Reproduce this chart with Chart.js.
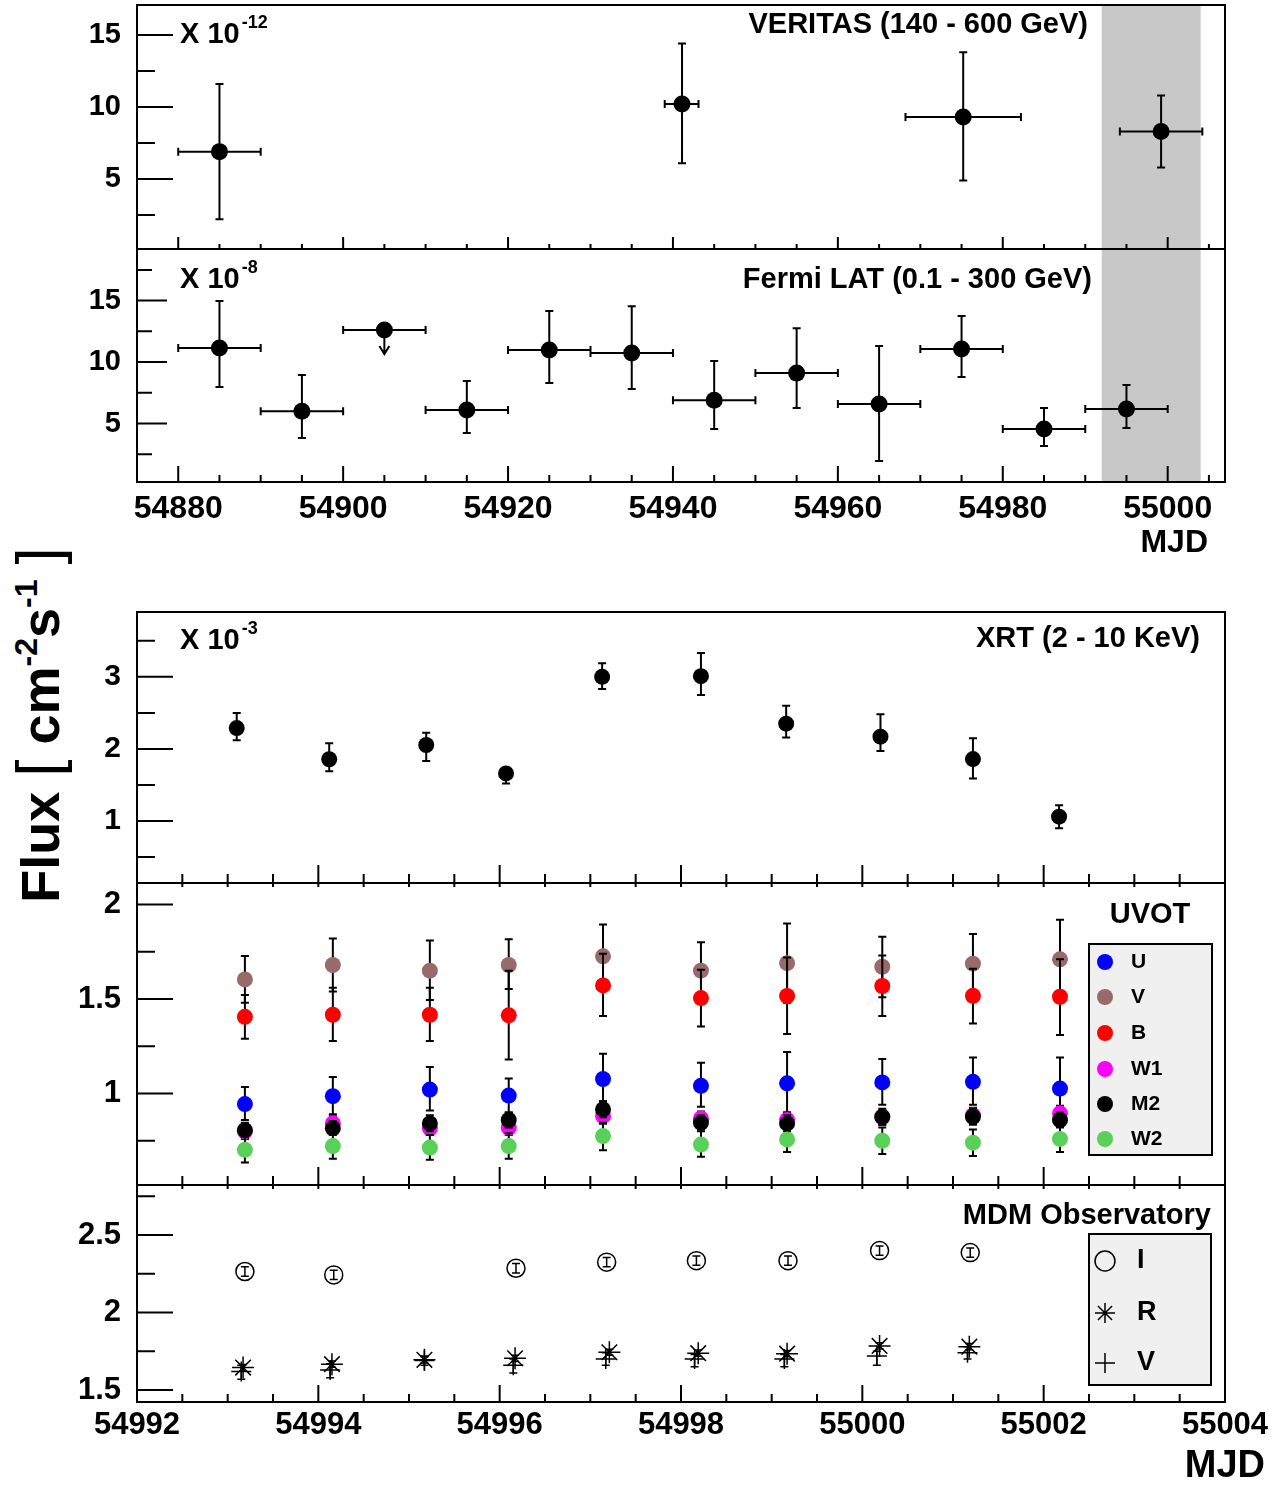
<!DOCTYPE html>
<html>
<head>
<meta charset="utf-8">
<script src="https://cdn.jsdelivr.net/npm/chart.js@4.4.0/dist/chart.umd.min.js"></script>
<style>
  body { margin: 0; background: #fff; width: 1288px; height: 1487px; position: relative; overflow: hidden; font-family: "Liberation Sans", Arial, sans-serif; }
  canvas { position: absolute; left: 0; }
  #ytitle { position: absolute; left: 38px; top: 725px; transform: translate(-50%, -50%) rotate(-90deg); white-space: nowrap; font-size: 54px; font-weight: bold; line-height: 1; }
  #ytitle .br { font-weight: normal; font-size: 62px; }
  #ytitle sup { font-size: 32px; vertical-align: 22px; }
</style>
</head>
<body>
<div id="ytitle">Flux <span class="br">[</span> cm<sup>-2</sup>s<sup>-1</sup> <span class="br">]</span></div>
<canvas id="cVer" width="1288" height="252" style="top:0px"></canvas>
<canvas id="cLat" width="1288" height="330" style="top:240px"></canvas>
<canvas id="cXrt" width="1288" height="286" style="top:600px"></canvas>
<canvas id="cUvot" width="1288" height="315" style="top:873px"></canvas>
<canvas id="cMdm" width="1288" height="312" style="top:1175px"></canvas>
<script>
// ---- data ----
const topMjdTicks = [54880, 54900, 54920, 54940, 54960, 54980, 55000];
const botMjdTicks = [54992, 54994, 54996, 54998, 55000, 55002, 55004];
const vhsBand = [54992, 55004];

// VERITAS (140 - 600 GeV), x 10^-12
const verMjd = [54885, 54941.1, 54975.2, 54999.2];
const verMjdLo = [54880, 54939, 54968.2, 54994.2];
const verMjdHi = [54890, 54943.1, 54982.2, 55004.2];
const verFlux = [6.9, 10.2, 9.3, 8.3];
const verFluxLo = [2.2, 6.1, 4.9, 5.8];
const verFluxHi = [11.6, 14.4, 13.8, 10.8];
const verYTicks = [5, 10, 15];

// Fermi LAT (0.1 - 300 GeV), x 10^-8
const latMjd = [54885, 54895, 54905, 54915, 54925, 54935, 54945, 54955, 54965, 54975, 54985, 54995];
const latMjdLo = [54880, 54890, 54900, 54910, 54920, 54930, 54940, 54950, 54960, 54970, 54980, 54990];
const latMjdHi = [54890, 54900, 54910, 54920, 54930, 54940, 54950, 54960, 54970, 54980, 54990, 55000];
const latFlux = [11.14, 6.0, 12.6, 6.1, 10.98, 10.73, 6.9, 9.1, 6.59, 11.06, 4.55, 6.18];
const latFluxLo = [7.97, 3.82, null, 4.23, 8.29, 7.8, 4.55, 6.26, 1.95, 8.78, 3.17, 4.63];
const latFluxHi = [14.96, 8.94, null, 8.46, 14.15, 14.55, 10.08, 12.76, 11.3, 13.74, 6.26, 8.13];
const latUpperTip = [null, null, 10.65, null, null, null, null, null, null, null, null, null];
const latYTicks = [5, 10, 15];

// XRT (2 - 10 keV), x 10^-3
const xrtMjd = [54993.10, 54994.12, 54995.19, 54996.07, 54997.13, 54998.22, 54999.16, 55000.20, 55001.22, 55002.17];
const xrtFlux = [2.29, 1.857, 2.055, 1.66, 3.0, 3.01, 2.35, 2.17, 1.86, 1.06];
const xrtFluxLo = [2.12, 1.69, 1.833, 1.52, 2.83, 2.75, 2.16, 1.97, 1.59, 0.9];
const xrtFluxHi = [2.5, 2.08, 2.226, 1.72, 3.19, 3.33, 2.6, 2.48, 2.15, 1.22];
const xrtYTicks = [1, 2, 3];

// UVOT
const uvotMjd = [54993.19, 54994.16, 54995.23, 54996.10, 54997.14, 54998.22, 54999.17, 55000.22, 55001.22, 55002.18];
const uvotU = [0.944, 0.986, 1.021, 0.989, 1.077, 1.041, 1.054, 1.059, 1.062, 1.026];
const uvotULo = [0.86, 0.89, 0.91, 0.9, 0.95, 0.93, 0.9, 0.94, 0.94, 0.87];
const uvotUHi = [1.034, 1.087, 1.14, 1.08, 1.21, 1.163, 1.22, 1.183, 1.19, 1.19];
const uvotV = [1.604, 1.68, 1.65, 1.68, 1.726, 1.65, 1.69, 1.671, 1.687, 1.71];
const uvotVLo = [1.48, 1.54, 1.495, 1.553, 1.56, 1.5, 1.48, 1.51, 1.53, 1.5];
const uvotVHi = [1.728, 1.82, 1.81, 1.816, 1.895, 1.8, 1.9, 1.83, 1.844, 1.92];
const uvotB = [1.406, 1.417, 1.417, 1.414, 1.572, 1.505, 1.516, 1.569, 1.517, 1.512];
const uvotBLo = [1.29, 1.278, 1.278, 1.18, 1.41, 1.355, 1.315, 1.41, 1.37, 1.31];
const uvotBHi = [1.521, 1.56, 1.56, 1.65, 1.74, 1.655, 1.72, 1.73, 1.66, 1.71];
const uvotW1 = [0.8, 0.842, 0.816, 0.82, 0.88, 0.868, 0.86, 0.874, 0.885, 0.895];
const uvotW1Lo = [0.76, 0.805, 0.78, 0.78, 0.84, 0.83, 0.82, 0.835, 0.845, 0.855];
const uvotW1Hi = [0.84, 0.88, 0.855, 0.86, 0.92, 0.905, 0.9, 0.91, 0.925, 0.935];
const uvotM2 = [0.806, 0.816, 0.842, 0.86, 0.916, 0.846, 0.842, 0.877, 0.877, 0.86];
const uvotM2Lo = [0.77, 0.78, 0.8, 0.82, 0.875, 0.81, 0.8, 0.835, 0.835, 0.82];
const uvotM2Hi = [0.845, 0.855, 0.885, 0.9, 0.96, 0.885, 0.885, 0.92, 0.92, 0.9];
const uvotW2 = [0.702, 0.722, 0.714, 0.722, 0.775, 0.73, 0.757, 0.75, 0.74, 0.76];
const uvotW2Lo = [0.635, 0.655, 0.65, 0.655, 0.7, 0.665, 0.69, 0.68, 0.67, 0.69];
const uvotW2Hi = [0.77, 0.79, 0.78, 0.79, 0.845, 0.8, 0.825, 0.82, 0.81, 0.83];
const uvotYTicks = [1, 1.5, 2];

// MDM Observatory
const mdmIMjd = [54993.19, 54994.17, 54996.18, 54997.18, 54998.17, 54999.18, 55000.19, 55001.19];
const mdmI = [2.265, 2.243, 2.286, 2.325, 2.335, 2.335, 2.4, 2.387];
const mdmILo = [2.235, 2.213, 2.256, 2.295, 2.305, 2.305, 2.37, 2.357];
const mdmIHi = [2.295, 2.273, 2.316, 2.355, 2.365, 2.365, 2.43, 2.417];
const mdmRMjd = [54993.17, 54994.15, 54995.17, 54996.17, 54997.21, 54998.19, 54999.17, 55000.19, 55001.18];
const mdmR = [1.645, 1.667, 1.695, 1.705, 1.744, 1.738, 1.735, 1.785, 1.78];
const mdmRLo = [1.625, 1.647, 1.675, 1.685, 1.724, 1.718, 1.715, 1.765, 1.76];
const mdmRHi = [1.665, 1.687, 1.715, 1.725, 1.764, 1.758, 1.755, 1.805, 1.8];
const mdmVMjd = [54993.15, 54994.13, 54995.17, 54996.15, 54997.17, 54998.15, 54999.14, 55000.16, 55001.16];
const mdmV = [1.62, 1.63, 1.69, 1.66, 1.7, 1.7, 1.7, 1.72, 1.74];
const mdmVLo = [1.57, 1.58, 1.66, 1.61, 1.66, 1.65, 1.65, 1.66, 1.7];
const mdmVHi = [1.66, 1.67, 1.72, 1.7, 1.74, 1.73, 1.73, 1.75, 1.78];
const mdmYTicks = [1.5, 2, 2.5];

// ---- drawing helpers ----
Chart.defaults.font.family = '"Liberation Sans", Arial, sans-serif';
Chart.defaults.font.weight = 'bold';
Chart.defaults.color = '#000';

function pts(xs, ys) {
  return xs.map((x, i) => ({ x: x, y: ys[i] }));
}

function marker(ctx, style, x, y, r, fill, stroke, lw) {
  ctx.save();
  ctx.lineWidth = lw;
  ctx.strokeStyle = stroke;
  ctx.fillStyle = fill;
  ctx.beginPath();
  if (style === 'circle') {
    ctx.arc(x, y, r, 0, Math.PI * 2);
    if (fill) ctx.fill();
    if (lw) ctx.stroke();
  } else {
    const angles = style === 'star' ? [0, 45, 90, 135] : [0, 90];
    angles.forEach(a => {
      const dx = Math.cos(a * Math.PI / 180) * r, dy = Math.sin(a * Math.PI / 180) * r;
      ctx.moveTo(x - dx, y - dy);
      ctx.lineTo(x + dx, y + dy);
    });
    ctx.stroke();
  }
  ctx.restore();
}

function drawErrors(chart, ds) {
  const { ctx } = chart;
  const { x, y } = chart.scales;
  const e = ds.err;
  const c = e.cap;
  ctx.save();
  ctx.strokeStyle = '#000';
  ctx.lineWidth = e.width;
  ctx.beginPath();
  ds.data.forEach((p, i) => {
    const px = x.getPixelForValue(p.x), py = y.getPixelForValue(p.y);
    if (e.yLo && e.yLo[i] != null) {
      const lo = y.getPixelForValue(e.yLo[i]), hi = y.getPixelForValue(e.yHi[i]);
      ctx.moveTo(px, lo); ctx.lineTo(px, hi);
      ctx.moveTo(px - c, lo); ctx.lineTo(px + c, lo);
      ctx.moveTo(px - c, hi); ctx.lineTo(px + c, hi);
    }
    if (e.xLo) {
      const lo = x.getPixelForValue(e.xLo[i]), hi = x.getPixelForValue(e.xHi[i]);
      ctx.moveTo(lo, py); ctx.lineTo(hi, py);
      ctx.moveTo(lo, py - c); ctx.lineTo(lo, py + c);
      ctx.moveTo(hi, py - c); ctx.lineTo(hi, py + c);
    }
    if (e.ul && e.ul[i] != null) {
      const tip = y.getPixelForValue(e.ul[i]);
      ctx.moveTo(px, py); ctx.lineTo(px, tip);
      ctx.moveTo(px - 5, tip - 8); ctx.lineTo(px, tip); ctx.lineTo(px + 5, tip - 8);
    }
  });
  ctx.stroke();
  ctx.restore();
}

function eachTick(scale, t, fn) {
  const n0 = Math.ceil(scale.min / t.minor - 1e-6), n1 = Math.floor(scale.max / t.minor + 1e-6);
  for (let n = n0; n <= n1; n++) {
    const v = n * t.minor;
    const r = v / t.major;
    fn(v, Math.abs(r - Math.round(r)) < 1e-6 ? t.majLen : t.minLen);
  }
}

// ROOT-like frame, inner ticks, labels and legend boxes
const rootPlugin = {
  id: 'root',
  beforeDatasetsDraw(chart, args, o) {
    if (!o.band) return;
    const { ctx, chartArea: a } = chart;
    const x = chart.scales.x;
    const x0 = x.getPixelForValue(o.band[0]), x1 = x.getPixelForValue(o.band[1]);
    ctx.save();
    ctx.fillStyle = '#c8c8c8';
    ctx.fillRect(x0, a.top + 1, x1 - x0, a.bottom - a.top - 2);
    ctx.restore();
  },
  beforeDatasetDraw(chart, args) {
    const ds = chart.data.datasets[args.index];
    if (ds.err) drawErrors(chart, ds);
  },
  afterDraw(chart, args, o) {
    const { ctx, chartArea: a } = chart;
    const { x, y } = chart.scales;
    ctx.save();
    ctx.strokeStyle = '#000';
    ctx.lineWidth = 2;
    ctx.strokeRect(a.left, a.top, a.right - a.left, a.bottom - a.top);
    ctx.beginPath();
    eachTick(y, o.yTicks, (v, len) => {
      const p = y.getPixelForValue(v);
      ctx.moveTo(a.left, p); ctx.lineTo(a.left + len, p);
    });
    eachTick(x, o.xTicks, (v, len) => {
      const p = x.getPixelForValue(v);
      ctx.moveTo(p, a.bottom); ctx.lineTo(p, a.bottom - len);
      if (o.xTicks.topLen) { ctx.moveTo(p, a.top); ctx.lineTo(p, a.top + o.xTicks.topLen); }
    });
    ctx.stroke();

    if (o.legend) {
      const L = o.legend;
      ctx.fillStyle = '#f0f0f0';
      ctx.fillRect(a.left + L.box[0], a.top + L.box[1], L.box[2] - L.box[0], L.box[3] - L.box[1]);
      ctx.strokeRect(a.left + L.box[0], a.top + L.box[1], L.box[2] - L.box[0], L.box[3] - L.box[1]);
      chart.data.datasets.forEach((ds, i) => {
        const ly = a.top + L.rows[i];
        const filled = ds.pointBackgroundColor !== 'rgba(0,0,0,0)';
        marker(ctx, ds.pointStyle, a.left + L.markerX, ly, L.r, filled ? ds.pointBackgroundColor : null, '#000', filled ? 0 : 1.5);
        ctx.fillStyle = '#000';
        ctx.font = 'bold ' + L.size + 'px "Liberation Sans", Arial, sans-serif';
        ctx.textAlign = 'left';
        ctx.textBaseline = 'middle';
        ctx.fillText(ds.label, a.left + L.textX, ly);
      });
    }

    (o.texts || []).forEach(t => {
      ctx.fillStyle = '#000';
      ctx.font = 'bold ' + t.size + 'px "Liberation Sans", Arial, sans-serif';
      ctx.textAlign = t.align;
      ctx.textBaseline = 'middle';
      const tx = a.left + t.x, ty = a.top + t.y;
      ctx.fillText(t.text, tx, ty);
      if (t.sup) {
        const w = ctx.measureText(t.text).width;
        ctx.font = 'bold ' + t.supSize + 'px "Liberation Sans", Arial, sans-serif';
        ctx.textAlign = 'left';
        ctx.fillText(t.sup, tx + w + 2, ty - 12);
      }
    });
    ctx.restore();
  }
};

function panel(id, o) {
  return new Chart(document.getElementById(id), {
    type: 'scatter',
    data: { datasets: o.datasets },
    plugins: [rootPlugin],
    options: {
      responsive: false,
      animation: false,
      events: [],
      layout: { autoPadding: false, padding: { left: 0, right: 63, top: o.padTop, bottom: o.padBottom } },
      plugins: { legend: { display: false }, tooltip: { enabled: false }, root: o.root },
      scales: {
        x: {
          type: 'linear',
          min: o.xMin,
          max: o.xMax,
          display: o.xLabels != null,
          afterBuildTicks: s => { s.ticks = (o.xLabels || []).map(v => ({ value: v })); },
          afterFit: s => { s.height = o.xAxisHeight || 0; s.paddingLeft = 0; s.paddingRight = 0; },
          ticks: { autoSkip: false, maxRotation: 0, padding: o.xPad || 5, font: { size: o.xFont || 31 }, callback: v => String(v) },
          grid: { display: false, drawTicks: false },
          border: { display: false }
        },
        y: {
          type: 'linear',
          min: o.yMin,
          max: o.yMax,
          afterBuildTicks: s => { s.ticks = o.yLabels.map(v => ({ value: v })); },
          afterFit: s => { s.width = 137; s.paddingTop = 0; s.paddingBottom = 0; },
          ticks: { autoSkip: false, padding: 16, font: { size: o.yFont }, callback: v => String(v) },
          grid: { display: false, drawTicks: false },
          border: { display: false }
        }
      }
    }
  });
}

function blackSeries(label, xs, ys, err, r) {
  return {
    label: label, data: pts(xs, ys), err: err,
    pointStyle: 'circle', pointRadius: r, pointBackgroundColor: '#000', pointBorderWidth: 0
  };
}

function colorSeries(label, color, ys, lo, hi, order) {
  return {
    label: label, data: pts(uvotMjd, ys), order: order,
    err: { yLo: lo, yHi: hi, cap: 4, width: 2 },
    pointStyle: 'circle', pointRadius: 8, pointBackgroundColor: color, pointBorderWidth: 0
  };
}

function mdmSeries(label, style, xs, ys, lo, hi, r, order) {
  return {
    label: label, data: pts(xs, ys), order: order,
    err: { yLo: lo, yHi: hi, cap: 4, width: 1.5 },
    pointStyle: style, pointRadius: r, pointBackgroundColor: 'rgba(0,0,0,0)',
    pointBorderColor: '#000', pointBorderWidth: 1.5
  };
}

// ---- panels ----
panel('cVer', {
  padTop: 5, padBottom: 3,
  xMin: 54875, xMax: 55006.95, yMin: 0.14, yMax: 17.08,
  yLabels: verYTicks, yFont: 29,
  datasets: [blackSeries('VERITAS', verMjd, verFlux,
    { xLo: verMjdLo, xHi: verMjdHi, yLo: verFluxLo, yHi: verFluxHi, cap: 4, width: 2 }, 8.5)],
  root: {
    band: vhsBand,
    yTicks: { major: 5, minor: 2.5, majLen: 36, minLen: 18 },
    xTicks: { major: 20, minor: 5, majLen: 12, minLen: 5 },
    texts: [
      { text: 'X 10', x: 43, y: 30, size: 29, align: 'left', sup: '-12', supSize: 18 },
      { text: 'VERITAS (140 - 600 GeV)', x: 951, y: 20, size: 29, align: 'right' }
    ]
  }
});

panel('cLat', {
  padTop: 9, padBottom: 0, xAxisHeight: 88, xPad: 8, xFont: 32,
  xMin: 54875, xMax: 55006.95, yMin: 0.24, yMax: 19.2,
  xLabels: topMjdTicks, yLabels: latYTicks, yFont: 29,
  datasets: [blackSeries('Fermi LAT', latMjd, latFlux,
    { xLo: latMjdLo, xHi: latMjdHi, yLo: latFluxLo, yHi: latFluxHi, ul: latUpperTip, cap: 4, width: 2 }, 8.5)],
  root: {
    band: vhsBand,
    yTicks: { major: 5, minor: 2.5, majLen: 30, minLen: 15 },
    xTicks: { major: 20, minor: 5, majLen: 16, minLen: 7 },
    texts: [
      { text: 'X 10', x: 43, y: 31, size: 29, align: 'left', sup: '-8', supSize: 18 },
      { text: 'Fermi LAT (0.1 - 300 GeV)', x: 955, y: 31, size: 29, align: 'right' },
      { text: 'MJD', x: 1071, y: 294, size: 32, align: 'right' }
    ]
  }
});

panel('cXrt', {
  padTop: 12, padBottom: 3,
  xMin: 54992, xMax: 55004, yMin: 0.14, yMax: 3.9,
  yLabels: xrtYTicks, yFont: 30,
  datasets: [blackSeries('XRT', xrtMjd, xrtFlux, { yLo: xrtFluxLo, yHi: xrtFluxHi, cap: 4, width: 2 }, 8)],
  root: {
    yTicks: { major: 1, minor: 0.5, majLen: 36, minLen: 18 },
    xTicks: { major: 2, minor: 0.5, majLen: 18, minLen: 9 },
    texts: [
      { text: 'X 10', x: 43, y: 29, size: 29, align: 'left', sup: '-3', supSize: 18 },
      { text: 'XRT (2 - 10 KeV)', x: 1063, y: 27, size: 29, align: 'right' }
    ]
  }
});

panel('cUvot', {
  padTop: 10, padBottom: 3,
  xMin: 54992, xMax: 55004, yMin: 0.516, yMax: 2.114,
  yLabels: uvotYTicks, yFont: 31,
  datasets: [
    colorSeries('U', '#0000ff', uvotU, uvotULo, uvotUHi, 0),
    colorSeries('V', '#996a6a', uvotV, uvotVLo, uvotVHi, -1),
    colorSeries('B', '#ff0000', uvotB, uvotBLo, uvotBHi, -2),
    colorSeries('W1', '#ff00ff', uvotW1, uvotW1Lo, uvotW1Hi, -3),
    colorSeries('M2', '#000000', uvotM2, uvotM2Lo, uvotM2Hi, -4),
    colorSeries('W2', '#59d159', uvotW2, uvotW2Lo, uvotW2Hi, -5)
  ],
  root: {
    yTicks: { major: 0.5, minor: 0.25, majLen: 36, minLen: 18 },
    xTicks: { major: 2, minor: 0.5, majLen: 18, minLen: 9, topLen: 4 },
    legend: { box: [952, 61, 1075, 272], rows: [79, 114, 150, 186, 221, 256], markerX: 968, textX: 994, size: 21, r: 8 },
    texts: [{ text: 'UVOT', x: 1013, y: 32, size: 29, align: 'center' }]
  }
});

panel('cMdm', {
  padTop: 10, padBottom: 0, xAxisHeight: 85, xPad: 5, xFont: 31,
  xMin: 54992, xMax: 55004, yMin: 1.423, yMax: 2.823,
  xLabels: botMjdTicks, yLabels: mdmYTicks, yFont: 31,
  datasets: [
    mdmSeries('I', 'circle', mdmIMjd, mdmI, mdmILo, mdmIHi, 9, 0),
    mdmSeries('R', 'star', mdmRMjd, mdmR, mdmRLo, mdmRHi, 11, -1),
    mdmSeries('V', 'cross', mdmVMjd, mdmV, mdmVLo, mdmVHi, 10, -2)
  ],
  root: {
    yTicks: { major: 0.5, minor: 0.25, majLen: 36, minLen: 18 },
    xTicks: { major: 2, minor: 0.5, majLen: 17, minLen: 8, topLen: 4 },
    legend: { box: [952, 49, 1074, 200], rows: [76, 128, 178], markerX: 968, textX: 1000, size: 27, r: 10 },
    texts: [
      { text: 'MDM Observatory', x: 1074, y: 31, size: 29, align: 'right' },
      { text: 'MJD', x: 1128, y: 282, size: 38, align: 'right' }
    ]
  }
});
</script>
</body>
</html>
